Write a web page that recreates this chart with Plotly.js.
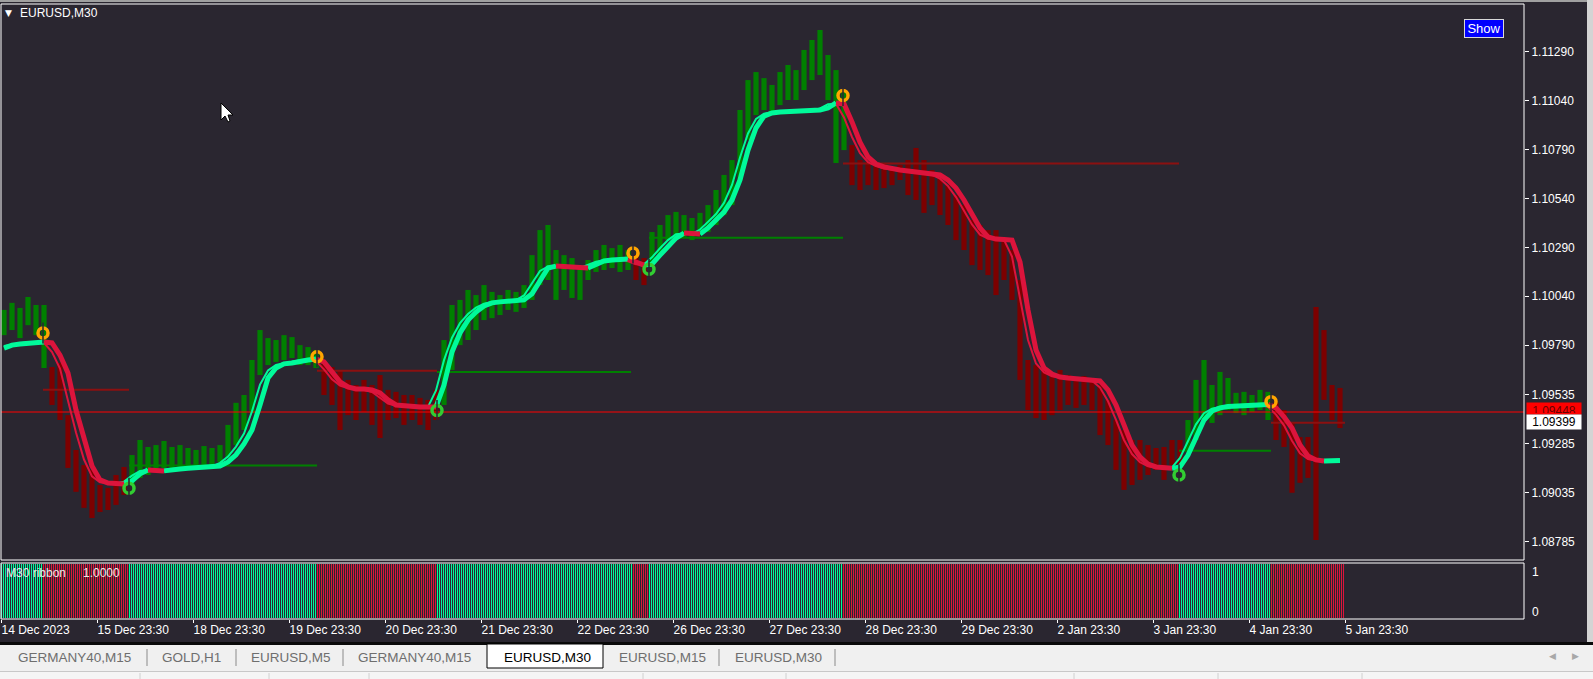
<!DOCTYPE html>
<html><head><meta charset="utf-8">
<script src="https://cdn.plot.ly/plotly-3.0.1.min.js"></script>
<style>html,body{margin:0;padding:0;background:#2a2630;overflow:hidden}</style>
</head><body><div id="chart" style="width:1593px;height:679px"></div>
<script>
// ---------------- DATA (EURUSD M30) ----------------
// price samples: one every 4 bars (bar index 4k .. 4k+3)
const priceHigh = [
1.09970,1.10006,1.09980,1.10036,1.09995,1.09995,1.09678,1.09699,1.09432,1.09254,
1.09177,1.09152,1.09075,1.09060,1.09126,1.09167,1.09228,1.09305,1.09269,1.09279,
1.09300,1.09269,1.09279,1.09264,1.09254,1.09274,1.09264,1.09279,1.09382,1.09495,
1.09535,1.09714,1.09867,1.09826,1.09816,1.09841,1.09831,1.09790,1.09780,1.09765,
1.09704,1.09678,1.09663,1.09612,1.09586,1.09612,1.09586,1.09637,1.09561,1.09551,
1.09535,1.09535,1.09520,1.09510,1.09561,1.09816,1.09995,1.10021,1.10072,1.10046,
1.10097,1.10062,1.10046,1.10072,1.10062,1.10097,1.10250,1.10378,1.10404,1.10276,
1.10250,1.10235,1.10199,1.10225,1.10276,1.10302,1.10286,1.10302,1.10276,1.10250,
1.10235,1.10368,1.10404,1.10455,1.10471,1.10455,1.10440,1.10466,1.10506,1.10583,
1.10660,1.10736,1.10992,1.11145,1.11186,1.11155,1.11120,1.11186,1.11222,1.11196,
1.11299,1.11350,1.11401,1.11273,1.11196,1.11094,1.10813,1.10736,1.10726,1.10711,
1.10721,1.10695,1.10711,1.10736,1.10798,1.10736,1.10685,1.10660,1.10608,1.10557,
1.10506,1.10430,1.10404,1.10378,1.10378,1.10327,1.10276,1.10123,1.09714,1.09688,
1.09663,1.09637,1.09663,1.09637,1.09622,1.09632,1.09612,1.09586,1.09510,1.09407,
1.09356,1.09305,1.09305,1.09279,1.09264,1.09269,1.09305,1.09305,1.09407,1.09612,
1.09714,1.09586,1.09653,1.09622,1.09546,1.09551,1.09535,1.09561,1.09551,1.09495,
1.09458,1.09392,1.09320,1.09320,1.09985,1.09867,1.09586,1.09571];
const priceLow = [
1.09841,1.09867,1.09826,1.09892,1.09841,1.09673,1.09484,1.09407,1.09162,1.09040,
1.08958,1.08906,1.08937,1.08947,1.08973,1.09024,1.09075,1.09111,1.09126,1.09162,
1.09162,1.09152,1.09167,1.09162,1.09167,1.09177,1.09177,1.09193,1.09213,1.09279,
1.09356,1.09443,1.09637,1.09688,1.09704,1.09714,1.09724,1.09688,1.09688,1.09673,
1.09535,1.09484,1.09356,1.09432,1.09407,1.09448,1.09382,1.09315,1.09407,1.09417,
1.09382,1.09407,1.09382,1.09356,1.09407,1.09484,1.09663,1.09790,1.09816,1.09867,
1.09918,1.09928,1.09944,1.09970,1.09960,1.09980,1.10021,1.10097,1.10123,1.10021,
1.10072,1.10031,1.10021,1.10123,1.10164,1.10174,1.10184,1.10164,1.10174,1.10123,
1.10097,1.10199,1.10250,1.10327,1.10337,1.10342,1.10327,1.10353,1.10368,1.10404,
1.10455,1.10506,1.10634,1.10839,1.10966,1.10992,1.10982,1.11017,1.11043,1.11043,
1.11094,1.11145,1.11171,1.11043,1.10721,1.10787,1.10608,1.10583,1.10608,1.10583,
1.10593,1.10608,1.10634,1.10557,1.10532,1.10466,1.10506,1.10455,1.10404,1.10327,
1.10276,1.10199,1.10174,1.10148,1.10046,1.10123,1.10021,1.09612,1.09458,1.09417,
1.09407,1.09432,1.09458,1.09484,1.09469,1.09484,1.09458,1.09330,1.09279,1.09152,
1.09050,1.09075,1.09101,1.09126,1.09152,1.09101,1.09177,1.09162,1.09254,1.09305,
1.09407,1.09392,1.09432,1.09458,1.09443,1.09432,1.09448,1.09458,1.09407,1.09305,
1.09269,1.09035,1.09086,1.09111,1.08794,1.09510,1.09407,1.09366];
// slow (thick) trend line, same sampling
const trendSlow = [
1.09775,1.09790,1.09796,1.09801,1.09806,1.09806,1.09801,1.09739,1.09647,1.09458,
1.09305,1.09172,1.09101,1.09085,1.09083,1.09080,1.09096,1.09132,1.09152,1.09149,
1.09147,1.09155,1.09157,1.09160,1.09162,1.09162,1.09165,1.09172,1.09193,1.09229,
1.09285,1.09356,1.09484,1.09622,1.09673,1.09694,1.09699,1.09709,1.09714,1.09719,
1.09704,1.09653,1.09602,1.09576,1.09566,1.09566,1.09561,1.09546,1.09510,1.09484,
1.09479,1.09476,1.09474,1.09474,1.09474,1.09586,1.09755,1.09852,1.09918,1.09959,
1.09990,1.10006,1.10011,1.10013,1.10016,1.10021,1.10052,1.10123,1.10184,1.10194,
1.10191,1.10189,1.10186,1.10184,1.10204,1.10220,1.10225,1.10228,1.10230,1.10215,
1.10199,1.10204,1.10250,1.10296,1.10337,1.10363,1.10360,1.10358,1.10389,1.10430,
1.10470,1.10532,1.10634,1.10787,1.10900,1.10961,1.10977,1.10982,1.10984,1.10987,
1.10987,1.10989,1.10992,1.11002,1.11028,1.11023,1.10931,1.10828,1.10752,1.10716,
1.10701,1.10690,1.10685,1.10680,1.10675,1.10670,1.10665,1.10660,1.10634,1.10593,
1.10532,1.10460,1.10389,1.10343,1.10332,1.10330,1.10327,1.10215,1.09970,1.09765,
1.09673,1.09642,1.09627,1.09622,1.09617,1.09614,1.09612,1.09607,1.09561,1.09484,
1.09382,1.09279,1.09218,1.09182,1.09167,1.09162,1.09160,1.09167,1.09228,1.09320,
1.09407,1.09453,1.09469,1.09476,1.09479,1.09481,1.09484,1.09484,1.09487,1.09469,
1.09423,1.09366,1.09279,1.09223,1.09203,1.09198,1.09200,1.09200];
// fast (thin) trend line
const trendFast = [
1.09786,1.09794,1.09800,1.09805,1.09806,1.09802,1.09754,1.09670,1.09505,1.09343,
1.09205,1.09119,1.09089,1.09084,1.09081,1.09092,1.09123,1.09147,1.09150,1.09148,
1.09153,1.09157,1.09159,1.09162,1.09162,1.09164,1.09170,1.09188,1.09220,1.09271,
1.09338,1.09452,1.09588,1.09660,1.09689,1.09698,1.09707,1.09713,1.09718,1.09708,
1.09666,1.09615,1.09583,1.09569,1.09566,1.09562,1.09550,1.09519,1.09491,1.09480,
1.09477,1.09475,1.09474,1.09474,1.09558,1.09713,1.09828,1.09902,1.09949,1.09982,
1.10002,1.10010,1.10013,1.10015,1.10020,1.10044,1.10105,1.10169,1.10192,1.10192,
1.10190,1.10187,1.10185,1.10199,1.10216,1.10224,1.10227,1.10230,1.10219,1.10203,
1.10203,1.10239,1.10285,1.10327,1.10357,1.10361,1.10359,1.10381,1.10420,1.10460,
1.10517,1.10609,1.10749,1.10872,1.10946,1.10973,1.10981,1.10984,1.10986,1.10987,
1.10989,1.10991,1.11000,1.11022,1.11024,1.10954,1.10854,1.10771,1.10725,1.10705,
1.10693,1.10686,1.10681,1.10676,1.10671,1.10666,1.10661,1.10641,1.10603,1.10547,
1.10478,1.10407,1.10355,1.10335,1.10331,1.10328,1.10243,1.10031,1.09816,1.09696,
1.09650,1.09631,1.09623,1.09618,1.09615,1.09613,1.09608,1.09573,1.09503,1.09408,
1.09305,1.09233,1.09191,1.09171,1.09163,1.09161,1.09165,1.09213,1.09297,1.09385,
1.09442,1.09465,1.09474,1.09478,1.09481,1.09483,1.09484,1.09486,1.09474,1.09435,
1.09380,1.09301,1.09237,1.09208,1.09199,1.09200,1.09200,1.09200];
// signals (bar index, direction, marker price)
const signalBar   = [21, 64, 158, 218, 316, 324, 421, 589, 635];
const signalDir   = ['down','up','down','up','down','up','down','up','down'];
const signalPrice = [1.09852,1.09058,1.09731,1.09456,1.10261,1.10178,1.11066,1.09126,1.09501];
// horizontal levels
const levelStart = [21, 64, 158, 218, 324, 421, 589, 635];
const levelEnd   = [64, 158, 218, 315, 421, 589, 635, 672];
const levelPrice = [1.09562,1.09174,1.09659,1.09652,1.10339,1.10718,1.09250,1.09393];
const levelDir   = ['down','up','down','up','up','down','up','down'];
const barCount = 672;
const barsPerSample = 4;
const ribbonValue = 1.0;
const currentPrice = 1.09448;
const bidPrice = 1.09399;
const yTickVals = [1.11290,1.11040,1.10790,1.10540,1.10290,1.10040,1.09790,1.09535,1.09285,1.09035,1.08785];
const yTickText = ['1.11290','1.11040','1.10790','1.10540','1.10290','1.10040','1.09790','1.09535','1.09285','1.09035','1.08785'];
const xTickVals = [0,48,96,144,192,240,288,336,384,432,480,528,576,624,672];
const xTickText = ['14 Dec 2023','15 Dec 23:30','18 Dec 23:30','19 Dec 23:30','20 Dec 23:30','21 Dec 23:30','22 Dec 23:30','26 Dec 23:30','27 Dec 23:30','28 Dec 23:30','29 Dec 23:30','2 Jan 23:30','3 Jan 23:30','4 Jan 23:30','5 Jan 23:30'];
const tabNames = ['GERMANY40,M15','GOLD,H1','EURUSD,M5','GERMANY40,M15','EURUSD,M30','EURUSD,M15','EURUSD,M30'];
const activeTab = 4;

// ---------------- STYLE / LAYOUT ----------------
const BG='#2a2630', GREEN_BAR='#008000', RED_BAR='#7d0000';
const UP='#00FA9A', DOWN='#DC143C';
const FONT='Liberation Sans, Arial, sans-serif';
const W=1593,H=679,ML=1,MR=69,MT=4,MB=60;
const PW=W-ML-MR, PH=H-MT-MB;
const pxX = x => (x-ML)/PW;
const pxY = y => (MT+PH-y)/PH;
const xRange=[0, PW/2];
const yRange=[1.086914, 1.115339];

function stateAt(b){ let s='up'; for(let j=0;j<signalBar.length;j++){ if(signalBar[j]<=b) s=signalDir[j]; } return s; }
const sampleX = priceHigh.map((_,k)=>k*barsPerSample+1.5);

function slopeTraces(vals,width){
  const runs=[]; let col='up'; let cur={col:'up',xs:[sampleX[0]],ys:[vals[0]]};
  for(let k=1;k<vals.length;k++){
    const d=vals[k]-vals[k-1]; const c=d>0?'up':(d<0?'down':col);
    if(c!==cur.col){ runs.push(cur); cur={col:c,xs:[sampleX[k-1]],ys:[vals[k-1]]}; }
    cur.xs.push(sampleX[k]); cur.ys.push(vals[k]); col=c;
  }
  runs.push(cur);
  const out=[];
  ['up','down'].forEach(c=>{
    const xs=[],ys=[];
    runs.filter(r=>r.col===c).forEach(r=>{ xs.push(...r.xs,null); ys.push(...r.ys,null); });
    out.push({type:'scatter',mode:'lines',x:xs,y:ys,xaxis:'x',yaxis:'y',
      line:{color:c==='up'?UP:DOWN,width:width},hoverinfo:'skip'});
  });
  return out;
}

const traces=[];
// price bars
traces.push({type:'bar',x:sampleX,base:priceLow,y:priceHigh.map((h,k)=>h-priceLow[k]),
  width:2.6,offset:-1.3,xaxis:'x',yaxis:'y',
  marker:{color:sampleX.map((_,k)=>stateAt(k*barsPerSample)==='up'?GREEN_BAR:RED_BAR),line:{width:0}},hoverinfo:'skip'});
// current price line
traces.push({type:'scatter',mode:'lines',x:xRange,y:[currentPrice,currentPrice],xaxis:'x',yaxis:'y',
  line:{color:'#ff0000',width:1},hoverinfo:'skip'});
// levels
['up','down'].forEach(c=>{
  const xs=[],ys=[];
  levelPrice.forEach((p,j)=>{ if(levelDir[j]===c){ xs.push(levelStart[j],levelEnd[j],null); ys.push(p,p,null);} });
  traces.push({type:'scatter',mode:'lines',x:xs,y:ys,xaxis:'x',yaxis:'y',
    line:{color:c==='up'?'#008000':'#8b1010',width:2},hoverinfo:'skip'});
});
traces.push(...slopeTraces(trendFast,2));
traces.push(...slopeTraces(trendSlow,5));
// signal markers
traces.push({type:'scatter',mode:'markers',x:signalBar,y:signalPrice,xaxis:'x',yaxis:'y',
  marker:{symbol:'circle-open',size:10,color:signalDir.map(d=>d==='down'?'#FFA500':'#32CD32'),line:{width:3.5}},hoverinfo:'skip'});
traces.push({type:'scatter',mode:'markers',x:signalBar,y:signalPrice,xaxis:'x',yaxis:'y',
  marker:{symbol:'line-ns-open',size:15,color:BG,line:{width:1.5}},hoverinfo:'skip'});
// ribbon
const ribbonX=[],ribbonY=[],ribbonC=[];
for(let b=0;b<barCount;b++){ ribbonX.push(b); ribbonY.push(ribbonValue); ribbonC.push(stateAt(b)==='up'?UP:DOWN); }
traces.push({type:'bar',x:ribbonX,y:ribbonY,width:0.5,offset:0,xaxis:'x',yaxis:'y2',
  marker:{color:ribbonC,line:{width:0}},hoverinfo:'skip'});

// shapes
const shapes=[
  {type:'rect',xref:'paper',yref:'paper',x0:0,x1:1,y0:pxY(560),y1:1,line:{color:'#ffffff',width:1}},
  {type:'rect',xref:'paper',yref:'paper',x0:0,x1:1,y0:0,y1:pxY(563),line:{color:'#ffffff',width:1}},
  {type:'rect',xref:'paper',yref:'paper',x0:pxX(0),x1:pxX(W),y0:pxY(0),y1:pxY(2),fillcolor:'#a0a0a0',line:{width:0}},
  {type:'rect',xref:'paper',yref:'paper',x0:pxX(1587),x1:pxX(W),y0:pxY(0),y1:pxY(643),fillcolor:'#d4d4d4',line:{width:0}},
  {type:'rect',xref:'paper',yref:'paper',x0:pxX(0),x1:pxX(W),y0:pxY(642),y1:pxY(645),fillcolor:'#0a0a0a',line:{width:0}},
  {type:'rect',xref:'paper',yref:'paper',x0:pxX(0),x1:pxX(W),y0:pxY(645),y1:pxY(671),fillcolor:'#f0f0f0',line:{width:0}},
  {type:'rect',xref:'paper',yref:'paper',x0:pxX(0),x1:pxX(W),y0:pxY(671),y1:pxY(H),fillcolor:'#f5f5f5',line:{width:0}},
  {type:'line',xref:'paper',yref:'paper',x0:pxX(0),x1:pxX(W),y0:pxY(671.5),y1:pxY(671.5),line:{color:'#c8c8c8',width:1}},
  {type:'rect',xref:'paper',yref:'paper',x0:pxX(487),x1:pxX(603),y0:pxY(644),y1:pxY(668),fillcolor:'#ffffff',line:{color:'#000000',width:1}},
  {type:'path',xref:'paper',yref:'paper',xsizemode:'pixel',ysizemode:'pixel',xanchor:pxX(221),yanchor:pxY(103),
   path:'M0,0L0,-17L4,-13L7,-19L9,-18L7,-12L12,-12Z',fillcolor:'#ffffff',line:{color:'#000000',width:1}}
];
[147,236,343,719,835].forEach(x=>shapes.push({type:'line',xref:'paper',yref:'paper',x0:pxX(x),x1:pxX(x),y0:pxY(649),y1:pxY(666),line:{color:'#8a8a8a',width:1}}));
[140,269,369,643,786,1074,1218,1362].forEach(x=>shapes.push({type:'line',xref:'paper',yref:'paper',x0:pxX(x),x1:pxX(x),y0:pxY(673),y1:pxY(679),line:{color:'#d0d0d0',width:1}}));

// annotations
const ann=[];
const A=(o)=>ann.push(Object.assign({xref:'paper',yref:'paper',showarrow:false,xanchor:'left',yanchor:'middle'},o));
A({x:pxX(3),y:pxY(13),text:'▼',font:{family:'DejaVu Sans',size:9,color:'#ffffff'}});
A({x:pxX(18),y:pxY(13),text:'EURUSD,M30',font:{family:FONT,size:12,color:'#ffffff'}});
A({x:pxX(1483.5),y:pxY(28.5),xanchor:'center',text:'Show',bgcolor:'#0000ff',bordercolor:'#d8d8d8',borderwidth:1,borderpad:1,width:36,height:15,font:{family:FONT,size:13,color:'#ffffff'}});
A({x:pxX(4),y:pxY(573),text:'M30 ribbon',font:{family:FONT,size:12,color:'#e8e8e8'}});
A({x:pxX(81),y:pxY(573),text:ribbonValue.toFixed(4),font:{family:FONT,size:12,color:'#e8e8e8'}});
A({x:pxX(1530),y:pxY(572),text:'1',font:{family:FONT,size:12,color:'#ffffff'}});
A({x:pxX(1530),y:pxY(612),text:'0',font:{family:FONT,size:12,color:'#ffffff'}});
A({x:pxX(1526),yref:'y',y:currentPrice,yanchor:'bottom',yshift:-3,text:currentPrice.toFixed(5),bgcolor:'#ff0000',width:52,height:9,borderpad:1,align:'center',valign:'top',font:{family:FONT,size:12,color:'#6a0000'}});
A({x:pxX(1526),yref:'y',y:bidPrice,text:bidPrice.toFixed(5),bgcolor:'#ffffff',width:52,height:12,borderpad:1,align:'center',font:{family:FONT,size:12,color:'#000000'}});
const tabX=[16,160,249,356,502,617,733];
tabNames.forEach((t,j)=>A({x:pxX(tabX[j]),y:pxY(657),text:t,font:{family:FONT,size:13.5,color:j===activeTab?'#000000':'#6e6e6e'}}));
A({x:pxX(1552),y:pxY(656),xanchor:'center',text:'◀',font:{family:'DejaVu Sans',size:9,color:'#a8a8a8'}});
A({x:pxX(1576),y:pxY(656),xanchor:'center',text:'▶',font:{family:'DejaVu Sans',size:9,color:'#a8a8a8'}});

const layout={
  width:W,height:H,margin:{l:ML,r:MR,t:MT,b:MB,pad:0},
  paper_bgcolor:BG,plot_bgcolor:BG,showlegend:false,hovermode:false,barmode:'overlay',
  font:{family:FONT,size:12,color:'#ffffff'},
  xaxis:{domain:[0,1],range:xRange,anchor:'y2',showgrid:false,zeroline:false,showline:false,
    tickmode:'array',tickvals:xTickVals,ticktext:xTickText,ticks:'outside',ticklen:3,tickcolor:'#ffffff',tickwidth:1,
    ticklabelposition:'outside right',tickfont:{family:FONT,size:12,color:'#ffffff'}},
  yaxis:{domain:[pxY(560),1],range:yRange,anchor:'x',side:'right',showgrid:false,zeroline:false,showline:false,
    tickmode:'array',tickvals:yTickVals,ticktext:yTickText,ticks:'outside',ticklen:4,tickcolor:'#ffffff',tickwidth:1,
    tickfont:{family:FONT,size:12,color:'#ffffff'}},
  yaxis2:{domain:[0,pxY(563)],range:[-0.02,1.02],anchor:'x',side:'right',showgrid:false,zeroline:false,showline:false,
    showticklabels:false,ticks:''},
  shapes:shapes,annotations:ann
};
Plotly.newPlot('chart',traces,layout,{displayModeBar:false,staticPlot:true});
</script></body></html>
